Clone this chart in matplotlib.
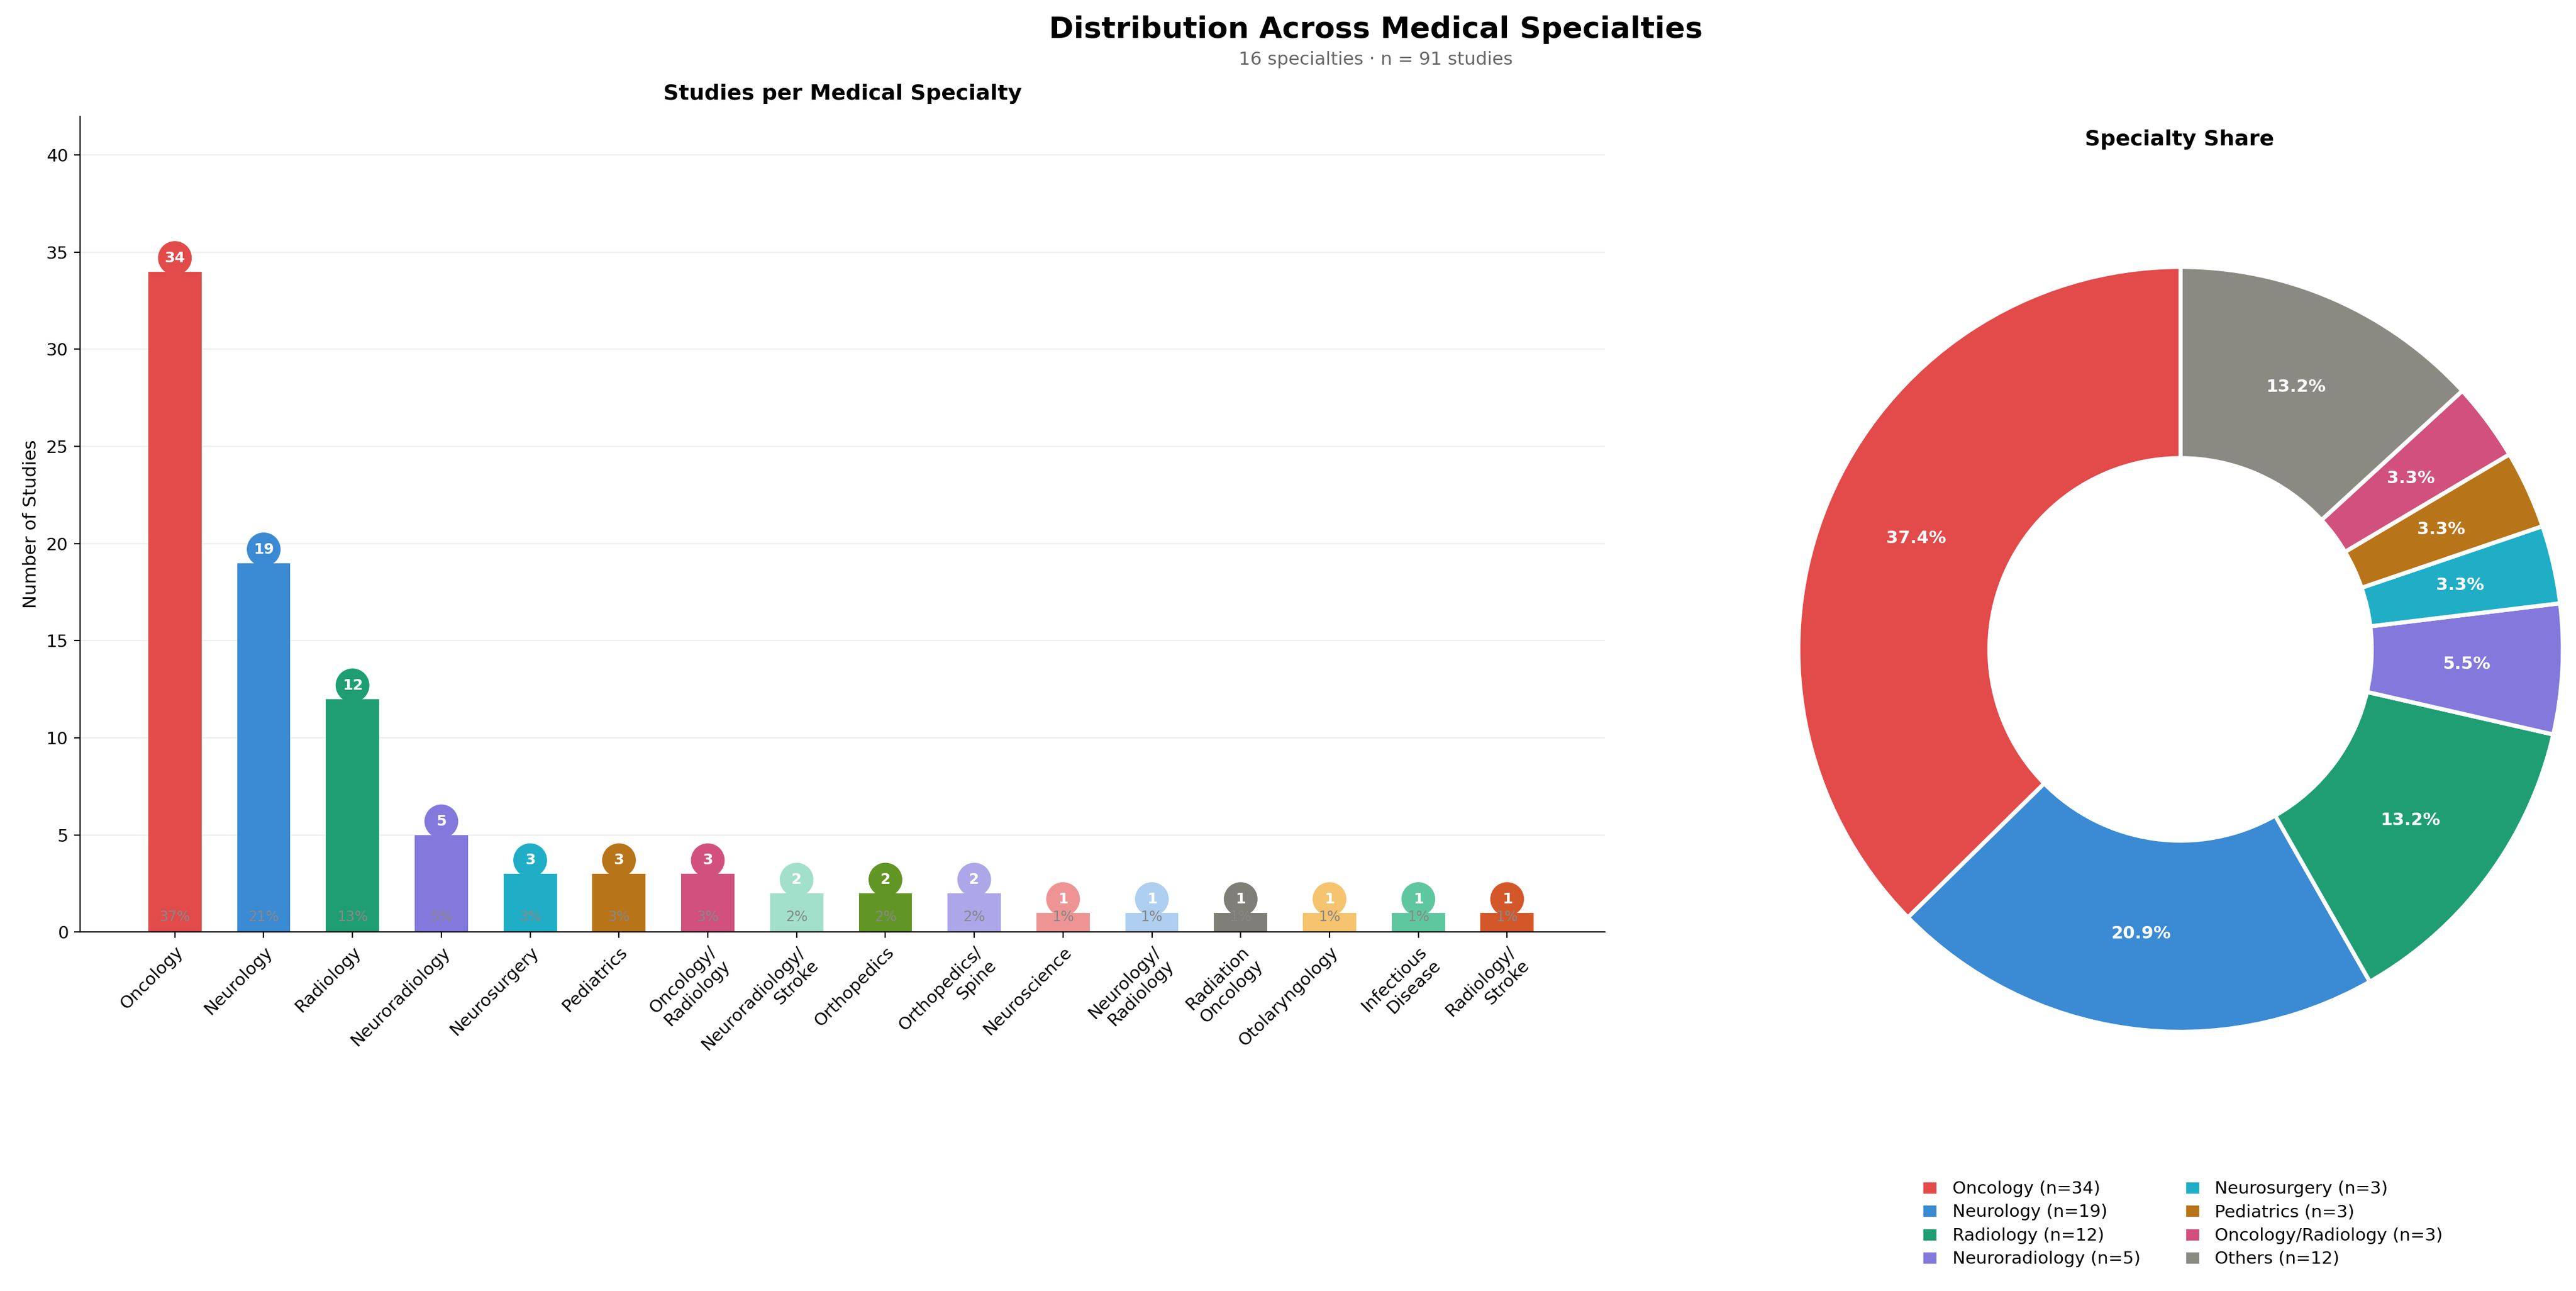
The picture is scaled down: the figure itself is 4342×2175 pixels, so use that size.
import numpy as np
import matplotlib.pyplot as plt

specialties = ['Oncology', 'Neurology', 'Radiology', 'Neuroradiology', 'Neurosurgery', 'Pediatrics',
               'Oncology/\nRadiology', 'Neuroradiology/\nStroke', 'Orthopedics', 'Orthopedics/\nSpine',
               'Neuroscience', 'Neurology/\nRadiology', 'Radiation\nOncology', 'Otolaryngology',
               'Infectious\nDisease', 'Radiology/\nStroke']
counts = [34, 19, 12, 5, 3, 3, 3, 2, 2, 2, 1, 1, 1, 1, 1, 1]
colors = ['#E34A4A', '#3A8AD4', '#1E9E72', '#8378DC', '#1FAEC5', '#B87418', '#D1507D', '#A2E0CB',
          '#629624', '#ADA6E8', '#EE9494', '#AECFEF', '#7F7F78', '#F6C46E', '#5FC7A0', '#D4572A']

pie_labels = ['Oncology', 'Neurology', 'Radiology', 'Neuroradiology', 'Neurosurgery', 'Pediatrics',
              'Oncology/Radiology', 'Others']
pie_counts = [34, 19, 12, 5, 3, 3, 3, 12]
pie_colors = colors[:7] + ['#8A8A82']

total = sum(counts)

fig = plt.figure(figsize=(21.71, 10.875), dpi=200)
fig.text(0.534, 0.977, 'Distribution Across Medical Specialties', ha='center', va='center',
         fontsize=18, fontweight='bold')
fig.text(0.534, 0.954, f'{len(counts)} specialties · n = {total} studies', ha='center', va='center',
         fontsize=11, color='#666666')

# Bar chart
ax = fig.add_axes([0.031, 0.278, 0.592, 0.632])
x = np.arange(len(counts))
ax.bar(x, counts, width=0.6, color=colors, zorder=2)
for xi, c, col in zip(x, counts, colors):
    ax.scatter(xi, c + 0.7, s=420, color=col, zorder=3, edgecolors='none')
    ax.text(xi, c + 0.7, str(c), ha='center', va='center', color='white', fontsize=9, fontweight='bold', zorder=4)
    ax.text(xi, 0.4, f'{c / total * 100:.0f}%', ha='center', va='bottom', color='#888888', fontsize=8.5, zorder=4)
ax.set_xticks(x)
ax.set_xticklabels(specialties, rotation=45, ha='right', rotation_mode='anchor', fontsize=10.5)
ax.set_xlim(-1.07, len(counts) - 1 + 1.1)
ax.set_ylim(0, 42)
ax.set_yticks(range(0, 41, 5))
ax.tick_params(axis='y', labelsize=10.5)
ax.set_ylabel('Number of Studies', fontsize=11)
ax.set_title('Studies per Medical Specialty', fontsize=13, fontweight='bold', pad=10)
ax.yaxis.grid(True, color='#eeeeee', linewidth=0.8, zorder=0)
ax.spines['top'].set_visible(False)
ax.spines['right'].set_visible(False)

# Donut
pax = fig.add_axes([0.661, 0.126, 0.371, 0.742])
wedges, _, autotexts = pax.pie(pie_counts, colors=pie_colors, startangle=90, counterclock=True,
                               autopct='%1.1f%%', pctdistance=0.75,
                               wedgeprops=dict(width=0.5, edgecolor='white', linewidth=2.5),
                               textprops=dict(color='white', fontsize=10.5, fontweight='bold'))
pax.set_aspect('equal')
fig.text(0.846, 0.892, 'Specialty Share', ha='center', va='center', fontsize=13, fontweight='bold')
fig.legend(wedges, [f'{l} (n={c})' for l, c in zip(pie_labels, pie_counts)], ncol=2,
           loc='upper center', bbox_to_anchor=(0.847, 0.098), frameon=False, fontsize=10.5,
           handlelength=1.0, handleheight=1.0, columnspacing=2.5, labelspacing=0.35)

fig.savefig('out.png', dpi=200)
